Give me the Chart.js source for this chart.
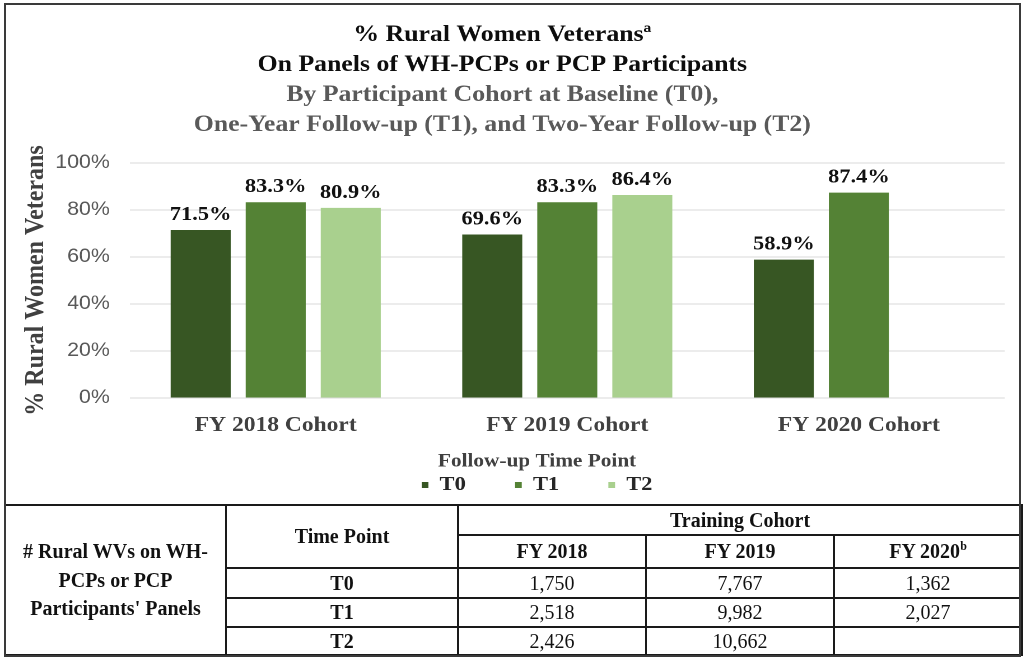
<!DOCTYPE html>
<html>
<head>
<meta charset="utf-8">
<script src="https://cdn.jsdelivr.net/npm/chart.js@4.4.1/dist/chart.umd.min.js"></script>
<style>
  body { margin: 0; background: #fff; }
  #page { position: relative; width: 1026px; height: 661px; overflow: hidden; background: #fff; }
  /* the source picture is stretched sideways, so the chart is drawn narrower and widened */
  #wrap { position: absolute; left: 0; top: 0; width: 916px; height: 505px; transform: scaleX(1.12); transform-origin: 0 0; }
  #frame { position: absolute; left: 4px; top: 3px; width: 1017px; height: 654px; border: 2px solid #3a3a3a; box-sizing: border-box; pointer-events: none; }
  #tbl { position: absolute; left: 4px; top: 504px; width: 1017px; border-collapse: collapse; table-layout: fixed;
         font-family: "Liberation Serif", serif; font-size: 20px; color: #111; }
  #tbl td { border: 2px solid #1a1a1a; text-align: center; padding: 0; }
  #tbl .b { font-weight: bold; }
  #tbl sup { font-size: 12px; line-height: 0; }
</style>
</head>
<body>
<div id="page">
  <div id="wrap"><canvas id="chart" width="916" height="505"></canvas></div>
  <table id="tbl">
    <colgroup>
      <col style="width:221px"><col style="width:232px"><col style="width:188px"><col style="width:188px"><col style="width:188px">
    </colgroup>
    <tbody id="tbody"></tbody>
  </table>
  <div id="frame"></div>
</div>
<script>
// chart values
var cohorts = ['FY 2018 Cohort', 'FY 2019 Cohort', 'FY 2020 Cohort'];
var timePoints = ['T0', 'T1', 'T2'];
var pctT0 = [71.5, 69.6, 58.9];
var pctT1 = [83.3, 83.3, 87.4];
var pctT2 = [80.9, 86.4, null];
var barColors = ['#375623', '#548235', '#A9D08E'];

// table values
var tableYears = ['FY 2018', 'FY 2019', 'FY 2020'];
var countT0 = [1750, 7767, 1362];
var countT1 = [2518, 9982, 2027];
var countT2 = [2426, 10662, null];

var serif = 'Liberation Serif';

// percent labels above the bars
var valueLabels = {
    id: 'valueLabels',
    afterDatasetsDraw: function(chart) {
        var ctx = chart.ctx;
        ctx.save();
        ctx.font = 'bold 20px "' + serif + '"';
        ctx.fillStyle = '#111';
        ctx.textAlign = 'center';
        ctx.textBaseline = 'alphabetic';
        chart.data.datasets.forEach(function(ds, i) {
            chart.getDatasetMeta(i).data.forEach(function(bar, j) {
                var v = ds.data[j];
                if (v == null) return;
                ctx.fillText(v.toFixed(1) + '%', bar.x, bar.y - 10);
            });
        });
        ctx.restore();
    }
};

// legend sits a bit right of the canvas centre in the original
var legendShift = {
    id: 'legendShift',
    afterLayout: function(chart) {
        chart.legend.left += 31;
        chart.legend.right += 31;
    }
};

var pctSeries = [pctT0, pctT1, pctT2];

new Chart(document.getElementById('chart'), {
    type: 'bar',
    data: {
        labels: cohorts,
        datasets: timePoints.map(function(t, i) {
            return {
                label: t,
                data: pctSeries[i],
                backgroundColor: barColors[i],
                borderWidth: 0,
                categoryPercentage: 0.772,
                barPercentage: 0.8
            };
        })
    },
    options: {
        responsive: false,
        animation: false,
        devicePixelRatio: 2,
        layout: { padding: { top: 0, left: 0, right: 19, bottom: 0 } },
        plugins: {
            tooltip: { enabled: false },
            title: {
                display: true,
                text: ['% Rural Women Veterans\u00AA', 'On Panels of WH-PCPs or PCP Participants'],
                color: '#0d0d0d',
                font: { family: serif, size: 23, weight: 'bold', lineHeight: '30px' },
                padding: { top: 20, bottom: 0 }
            },
            subtitle: {
                display: true,
                text: ['By Participant Cohort at Baseline (T0),', 'One-Year Follow-up (T1), and Two-Year Follow-up (T2)'],
                color: '#595959',
                font: { family: serif, size: 23, weight: 'bold', lineHeight: '30px' },
                padding: { top: 0, bottom: 23 }
            },
            legend: {
                position: 'bottom',
                title: {
                    display: true,
                    text: 'Follow-up Time Point',
                    color: '#404040',
                    font: { family: serif, size: 19, weight: 'bold', lineHeight: 1 },
                    padding: { top: 19, bottom: 0 }
                },
                labels: {
                    boxWidth: 6,
                    boxHeight: 6,
                    padding: 4,
                    color: '#262626',
                    font: { family: serif, size: 20, weight: 'bold' },
                    generateLabels: function(chart) {
                        var items = Chart.defaults.plugins.legend.labels.generateLabels(chart);
                        items.forEach(function(it, i) {
                            if (i < items.length - 1) it.text += '        ';
                        });
                        return items;
                    }
                }
            }
        },
        scales: {
            x: {
                grid: { display: false, drawTicks: false },
                border: { display: false },
                ticks: {
                    color: '#404040',
                    padding: 17,
                    font: { family: serif, size: 21, weight: 'bold', lineHeight: 1 }
                },
                afterFit: function(scale) { scale.height = 35; }
            },
            y: {
                min: 0,
                max: 100,
                grid: { color: '#d9d9d9', lineWidth: 1, drawTicks: false },
                border: { display: false },
                ticks: {
                    stepSize: 20,
                    padding: 18,
                    color: '#595959',
                    font: { family: 'Liberation Sans', size: 19 },
                    callback: function(v) { return v + '%'; }
                },
                title: {
                    display: true,
                    text: '% Rural Women Veterans',
                    color: '#404040',
                    font: { family: serif, size: 24, weight: 'bold' },
                    padding: { top: 18, bottom: 0 }
                },
                afterFit: function(scale) { scale.width = 116; }
            }
        }
    },
    plugins: [valueLabels, legendShift]
});

// table under the chart
function fmt(n) { return n == null ? '' : n.toLocaleString('en-US'); }
var tb = document.getElementById('tbody');
var html = '';
html += '<tr style="height:30px">' +
    '<td class="b" rowspan="5" style="line-height:28.5px">' + '# Rural WVs on WH-<br>PCPs or PCP<br>Participants\' Panels' + '</td>' +
    '<td class="b" rowspan="2">Time Point</td>' +
    '<td class="b" colspan="3">Training Cohort</td></tr>';
html += '<tr style="height:33px">' + tableYears.map(function(y, i) {
    return '<td class="b">' + y + (i === tableYears.length - 1 ? '<sup>b</sup>' : '') + '</td>';
}).join('') + '</tr>';
var countRows = [countT0, countT1, countT2];
var rowH = [30, 29, 28];
countRows.forEach(function(row, r) {
    html += '<tr style="height:' + rowH[r] + 'px"><td class="b">' + timePoints[r] + '</td>' +
        row.map(function(v) { return '<td>' + fmt(v) + '</td>'; }).join('') + '</tr>';
});
tb.innerHTML = html;
</script>
</body>
</html>
